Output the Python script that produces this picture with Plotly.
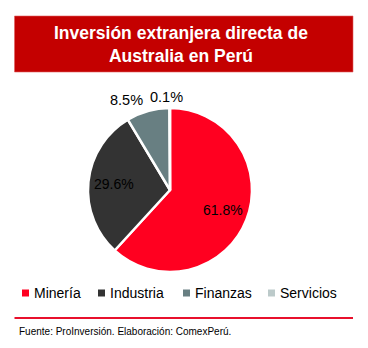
import math
import plotly.graph_objects as go

# Sector shares of Australian FDI in Peru (%)
sectors = ["Minería", "Industria", "Finanzas", "Servicios"]
shares = [61.8, 29.6, 8.5, 0.1]
colors = ["#FF0020", "#333333", "#687F82", "#BCCACA"]
inside_label = [True, True, False, False]

title_text = "Inversión extranjera directa de<br>Australia en Perú"
source_text = "Fuente: ProInversión. Elaboración: ComexPerú."

W, H = 368, 348
FONT = "Liberation Sans, Arial, sans-serif"

# pie placement in pixels
CX, CY, R = 170, 190, 82


def px(x):
    return x / W


def py(y):
    return 1 - y / H


fig = go.Figure()
fig.add_trace(go.Pie(
    labels=sectors,
    values=shares,
    sort=False,
    direction="clockwise",
    rotation=0,
    marker=dict(colors=colors, line=dict(color="white", width=2.5)),
    textinfo="none",
    domain=dict(x=[px(CX - R), px(CX + R)], y=[py(CY + R), py(CY - R)]),
    showlegend=False,
    hoverinfo="label+percent",
))

shapes = [
    # title banner
    dict(type="rect", xref="paper", yref="paper",
         x0=px(14.5), x1=px(353), y0=py(72), y1=py(16),
         fillcolor="#C40000", line=dict(color="#E06060", width=0.6), layer="below"),
    # separator above the source note
    dict(type="line", xref="paper", yref="paper",
         x0=px(14.5), x1=px(353), y0=py(318), y1=py(318),
         line=dict(color="#E8102C", width=2)),
]

annotations = [
    dict(text=title_text, x=px(181), y=py(45), xref="paper", yref="paper",
         xanchor="center", yanchor="middle", showarrow=False, align="center",
         font=dict(family=FONT, size=17.5, color="white", weight="bold")),
    dict(text=source_text, x=px(17), y=py(331), xref="paper", yref="paper",
         xanchor="left", yanchor="middle", showarrow=False,
         font=dict(family=FONT, size=10, color="black")),
]

# Percentage labels along each slice's mid-angle: inside for the large
# slices, just outside the rim (no leader lines) for the thin ones
total = sum(shares)
cum = 0.0
for val, ins in zip(shares, inside_label):
    mid = (cum + val / 2) / total * 2 * math.pi  # clockwise from 12 o'clock
    cum += val
    s, c = math.sin(mid), math.cos(mid)
    if ins:
        rr, anchor, size, shift = 0.69 * R, "center", 14, 0
    else:
        rr = R + 11
        anchor = "right" if s < -0.1 else "center"
        size, shift = 14.5, (0 if anchor == "right" else -3)
    annotations.append(dict(text=f"{val:.1f}%", x=px(CX + rr * s), y=py(CY - rr * c),
                            xref="paper", yref="paper", xanchor=anchor, yanchor="middle",
                            xshift=shift, showarrow=False,
                            font=dict(family=FONT, size=size, color="black")))

# Legend row: colour swatch followed by sector name
legend_x = [22, 98, 183, 268]
legend_y = 293
for name, col, lx in zip(sectors, colors, legend_x):
    shapes.append(dict(type="rect", xref="paper", yref="paper",
                       x0=px(lx), x1=px(lx + 7), y0=py(legend_y + 3.5), y1=py(legend_y - 3.5),
                       fillcolor=col, line=dict(width=0)))
    annotations.append(dict(text=name, x=px(lx + 10), y=py(legend_y), xref="paper", yref="paper",
                            xanchor="left", yanchor="middle", showarrow=False,
                            font=dict(family=FONT, size=14, color="black")))

fig.update_layout(
    width=W, height=H,
    margin=dict(l=0, r=0, t=0, b=0),
    paper_bgcolor="white",
    plot_bgcolor="white",
    shapes=shapes,
    annotations=annotations,
)

fig.write_html("out.html")
